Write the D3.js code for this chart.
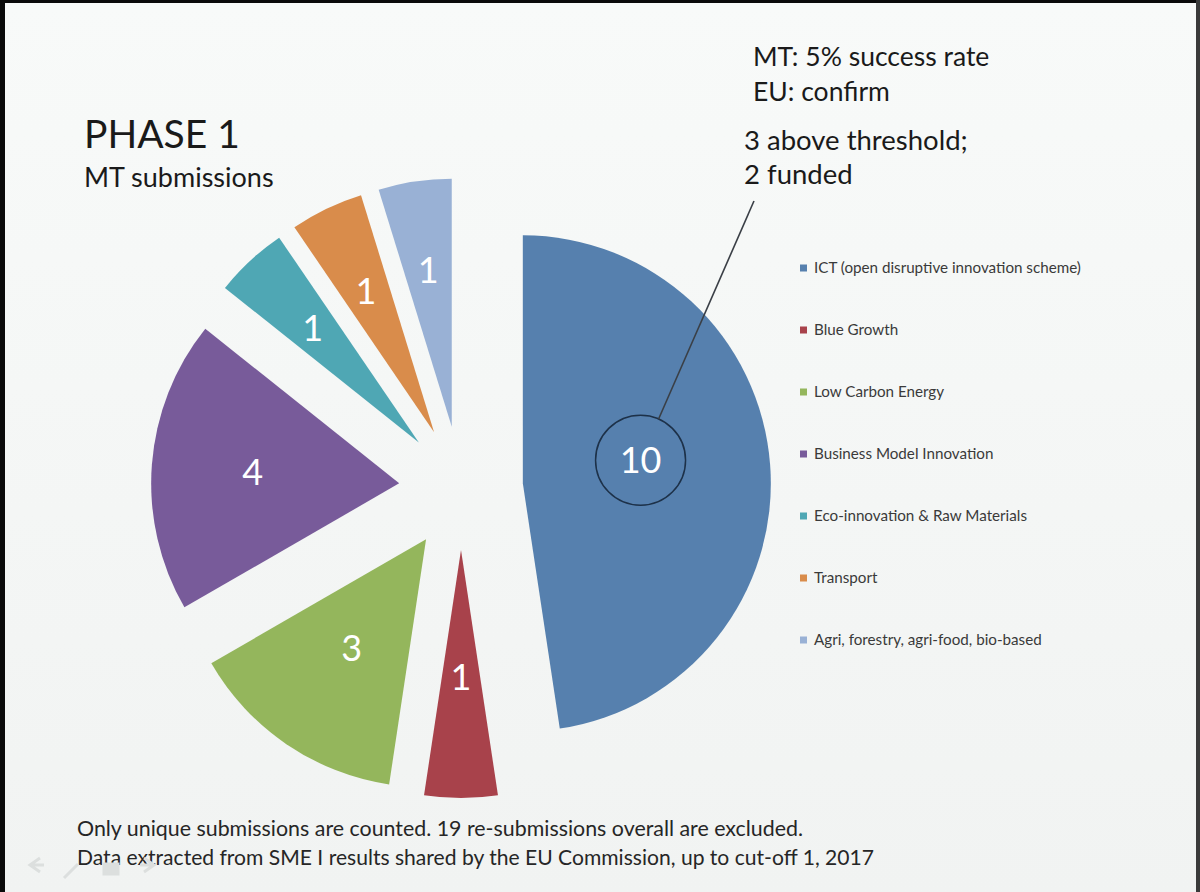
<!DOCTYPE html>
<html><head><meta charset="utf-8">
<script src="https://cdn.jsdelivr.net/npm/d3@7"></script>
<style>
html,body{margin:0;padding:0;background:#000;}
svg{display:block;}
</style></head>
<body>
<svg id="chart" width="1200" height="892"></svg>
<script>
// ---- data ----
const categories = [
  "ICT (open disruptive innovation scheme)",
  "Blue Growth",
  "Low Carbon Energy",
  "Business Model Innovation",
  "Eco-innovation & Raw Materials",
  "Transport",
  "Agri, forestry, agri-food, bio-based"
];
const values = [10, 1, 3, 4, 1, 1, 1];
const colors = ["#5680ae", "#a8424b", "#94b65c", "#785b9a", "#4fa7b4", "#d98c4b", "#99b1d5"];
const titleLines = ["PHASE 1", "MT submissions"];
const noteTop = ["MT: 5% success rate", "EU: confirm"];
const noteMid = ["3 above threshold;", "2 funded"];
const footnotes = [
  "Only unique submissions are counted. 19 re-submissions overall are excluded.",
  "Data extracted from SME I results shared by the EU Commission, up to cut-off 1, 2017"
];

// ---- layout ----
const W = 1200, H = 892;
const cx = 461, cy = 488, R = 248, explode = 62;
const labelRadius = [120, 127, 132, 147, 156, 157, 158];
const labelFrac = [0.46, 0.5, 0.5, 0.5, 0.5, 0.5, 0.5];
const font = "Lato, 'Open Sans', sans-serif";

const svg = d3.select("#chart");
const defs = svg.append("defs");
const grad = defs.append("linearGradient").attr("id","bg").attr("x1",0).attr("y1",0).attr("x2",0).attr("y2",1);
grad.append("stop").attr("offset","0%").attr("stop-color","#f8faf9");
grad.append("stop").attr("offset","100%").attr("stop-color","#f1f3f2");

svg.append("rect").attr("width",W).attr("height",H).attr("fill","#0a0a0a");
svg.append("rect").attr("x",5).attr("y",3).attr("width",W-8).attr("height",H-3).attr("fill","url(#bg)");
svg.append("rect").attr("x",W-4).attr("y",0).attr("width",4).attr("height",H).attr("fill","#3a3a3a");

// ---- pie ----
const pie = d3.pie().sort(null).value(d => d)(values);
const arc = d3.arc().innerRadius(0).outerRadius(R);
const g = svg.append("g").attr("transform", `translate(${cx},${cy})`);

const slices = g.selectAll("g.slice").data(pie).enter().append("g")
  .attr("class","slice")
  .attr("transform", d => {
    const m = (d.startAngle + d.endAngle) / 2;
    return `translate(${explode*Math.sin(m)},${-explode*Math.cos(m)})`;
  });
slices.append("path").attr("d", arc).attr("fill", (d,i) => colors[i]);

const labelPos = (d,i) => {
  const m = d.startAngle + (d.endAngle - d.startAngle) * labelFrac[i];
  const r = labelRadius[i];
  return [r*Math.sin(m), -r*Math.cos(m)];
};
slices.append("text")
  .attr("x", (d,i) => labelPos(d,i)[0])
  .attr("y", (d,i) => labelPos(d,i)[1])
  .attr("text-anchor","middle").attr("dy","0.36em")
  .attr("fill","#fff").attr("font-family",font).attr("font-size",36)
  .text(d => d.data);

// annotation circle around the ICT label
const ict = pie[0];
const im = (ict.startAngle + ict.endAngle) / 2;
const ax = cx + explode*Math.sin(im) + labelPos(ict,0)[0];
const ay = cy - explode*Math.cos(im) + labelPos(ict,0)[1];
const cr = 45;
svg.append("circle").attr("cx",ax).attr("cy",ay).attr("r",cr)
  .attr("fill","none").attr("stroke","#1d3149").attr("stroke-width",1.5);
const ex = 754, ey = 201;
const dl = Math.hypot(ex-ax, ey-ay);
svg.append("line")
  .attr("x1", ax + cr*(ex-ax)/dl).attr("y1", ay + cr*(ey-ay)/dl)
  .attr("x2", ex).attr("y2", ey)
  .attr("stroke","#3a3f46").attr("stroke-width",1.6);

// ---- titles & notes ----
svg.append("text").attr("x",84).attr("y",148).attr("font-family",font)
  .attr("font-size",39).attr("fill","#1a1a1a").text(titleLines[0]);
svg.append("text").attr("x",84).attr("y",187).attr("font-family",font)
  .attr("font-size",27).attr("fill","#1a1a1a").text(titleLines[1]);

noteTop.forEach((t,i) => svg.append("text").attr("x",753).attr("y",66+i*35)
  .attr("font-family",font).attr("font-size",26.5).attr("fill","#1a1a1a").text(t));
noteMid.forEach((t,i) => svg.append("text").attr("x",744).attr("y",150+i*34)
  .attr("font-family",font).attr("font-size",27.5).attr("fill","#1a1a1a").text(t));

// ---- legend ----
const lg = svg.append("g");
const legY = d3.scaleLinear().domain([0, categories.length-1]).range([268, 640]);
categories.forEach((c,i) => {
  const y = legY(i);
  lg.append("rect").attr("x",800).attr("y",y-3.5).attr("width",7).attr("height",7).attr("fill",colors[i]);
  lg.append("text").attr("x",814).attr("y",y).attr("dy","0.35em")
    .attr("font-family",font).attr("font-size",15.2).attr("fill","#3a3a3a").text(c);
});

// ---- footnotes ----
const footW = [726, 797];
footnotes.forEach((t,i) => svg.append("text").attr("x",77).attr("y",836+i*29)
  .attr("font-family",font).attr("font-size",21.5).attr("fill","#262626")
  .attr("textLength",footW[i]).attr("lengthAdjust","spacingAndGlyphs").text(t));

// faint slide navigation icons
const nav = svg.append("g").attr("fill","none").attr("stroke","#dcdfde").attr("stroke-width",3);
nav.append("path").attr("d","M40,872 l-10,-7 l10,-7 M30,865 h14");
nav.append("path").attr("d","M64,878 l14,-14");
nav.append("rect").attr("x",104).attr("y",864).attr("width",14).attr("height",10).attr("fill","#dcdfde");
nav.append("path").attr("d","M144,858 l10,7 l-10,7 M154,865 h-14");
</script>
</body></html>
